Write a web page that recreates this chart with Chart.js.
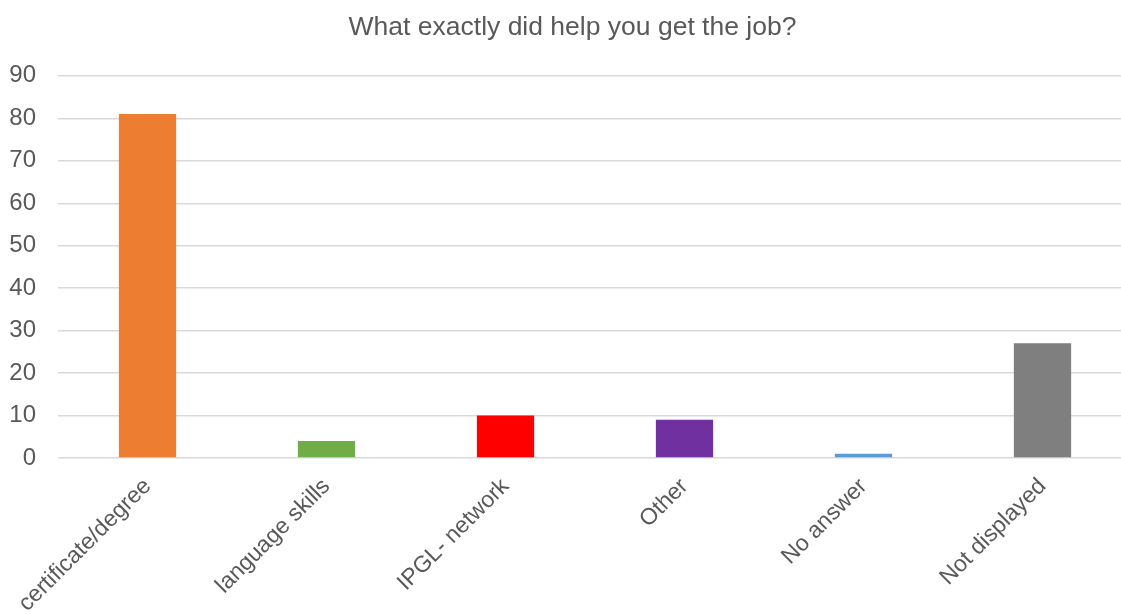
<!DOCTYPE html>
<html>
<head>
<meta charset="utf-8">
<script src="https://cdn.jsdelivr.net/npm/chart.js@4/dist/chart.umd.min.js"></script>
<style>
  html, body { margin: 0; padding: 0; background: #fff; }
  #wrap { width: 1121px; height: 614px; }
</style>
</head>
<body>
<div id="wrap"><canvas id="myChart"></canvas></div>
<script>
const categories = ['certificate/degree', 'language skills', 'IPGL- network', 'Other', 'No answer', 'Not displayed'];
const counts = [81, 4, 10, 9, 1, 27];
const barColors = ['#ED7D31', '#70AD47', '#FF0000', '#7030A0', '#5B9BD5', '#7F7F7F'];

const textColor = '#595959';
const fontFamily = 'Liberation Sans, Arial, sans-serif';

// the plot area in the original runs a little past the right edge,
// and the title sits a bit right of the canvas centre
const stretchRight = {
    id: 'stretchRight',
    afterLayout(chart) {
        const extra = 11;
        const x = chart.scales.x;
        x.right += extra;
        x.width += extra;
        x.configure();
        chart.chartArea.right += extra;
        chart.chartArea.width += extra;
        chart.scales.y.configure();

        if (chart.titleBlock) {
            chart.titleBlock.left += 12;
            chart.titleBlock.right += 12;
        }
    }
};

const ctx = document.getElementById('myChart').getContext('2d');

new Chart(ctx, {
    type: 'bar',
    data: {
        labels: categories,
        datasets: [{
            data: counts,
            backgroundColor: barColors,
            categoryPercentage: 1,
            barPercentage: 0.32
        }]
    },
    options: {
        responsive: true,
        maintainAspectRatio: false,
        animation: false,
        plugins: {
            legend: { display: false },
            tooltip: { enabled: false },
            title: {
                display: true,
                text: 'What exactly did help you get the job?',
                color: textColor,
                font: { family: fontFamily, size: 26.5, weight: 'normal' },
                padding: { top: 12, bottom: 32 }
            }
        },
        scales: {
            x: {
                grid: { display: false },
                border: { display: false },
                ticks: {
                    color: textColor,
                    font: { family: fontFamily, size: 23 },
                    minRotation: 45,
                    maxRotation: 45,
                    padding: 7
                },
                afterFit: function (scale) {
                    scale.paddingLeft = 0;
                    scale.paddingRight = 0;
                    scale.height = 156;
                }
            },
            y: {
                min: 0,
                max: 90,
                grid: { color: '#d9d9d9', lineWidth: 1.4, drawTicks: false },
                border: { display: false },
                ticks: {
                    stepSize: 10,
                    color: textColor,
                    font: { family: fontFamily, size: 24 },
                    padding: 22
                },
                afterFit: function (scale) {
                    scale.width = 58;
                }
            }
        }
    },
    plugins: [stretchRight]
});
</script>
</body>
</html>
